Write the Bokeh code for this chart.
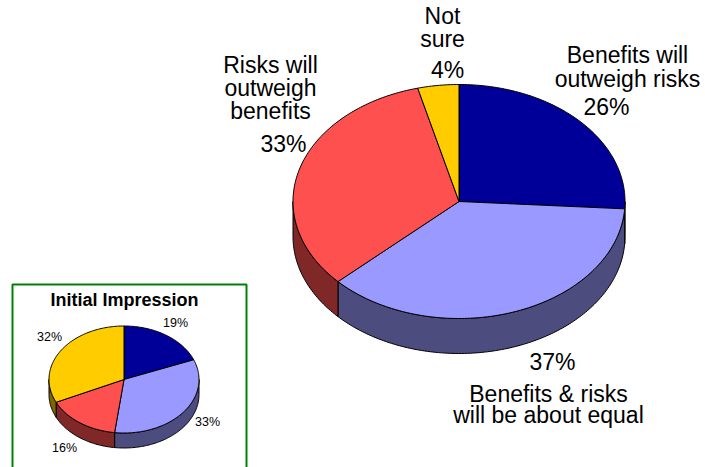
import numpy as np
from bokeh.plotting import figure
from bokeh.models import Range1d
from bokeh.embed import file_html
from bokeh.resources import INLINE
from bokeh.core.properties import value

# ---------------- data ----------------
main_categories = ["Benefits will outweigh risks",
                   "Benefits & risks will be about equal",
                   "Risks will outweigh benefits",
                   "Not sure"]
main_label_lines = [["Benefits will", "outweigh risks"],
                    ["Benefits & risks", "will be about equal"],
                    ["Risks will", "outweigh", "benefits"],
                    ["Not", "sure"]]
main_values = [26, 37, 33, 4]

inset_title = "Initial Impression"
inset_values = [19, 33, 16, 32]

# ---------------- style / layout ----------------
top_colors = ["#000099", "#9999FF", "#FF5050", "#FFCC00"]
side_colors = ["#00004C", "#4C4C7F", "#802828", "#806600"]
FONT = "Liberation Sans"
MAIN_FS, INSET_FS, TITLE_FS = 23, 12.5, 18
BASE_SHIFT = 0.39  # renderer places alphabetic baseline ~0.39em lower

# label layout: (name x, first baseline, line gap, pct x, pct baseline)
main_label_pos = [(627, 63, 24, 606, 115),
                  (548, 402, 21, 552, 370),
                  (270, 73, 23, 283, 152),
                  (442, 24, 23, 447, 78)]
inset_label_pos = [(175, 327), (207, 426), (64, 452), (49, 341)]

W, H = 705, 467
p = figure(width=W, height=H, output_backend="svg", toolbar_location=None,
           x_range=Range1d(0, W), y_range=Range1d(H, 0),
           min_border=0)
p.axis.visible = False
p.grid.visible = False
p.outline_line_color = None
p.background_fill_color = "white"
p.border_fill_color = "white"


def pie3d(vals, cx, cy, rx, ry, depth, lw):
    total = float(sum(vals))
    bounds = np.concatenate([[0.0], np.cumsum(vals) / total * 360.0])

    def arc(a0, a1, dy=0.0):
        n = max(2, int(abs(a1 - a0) / 1.0) + 2)
        t = np.radians(np.linspace(a0, a1, n))
        return list(cx + rx * np.sin(t)), list(cy - ry * np.cos(t) + dy)

    # sides (front half: 90..270 deg clockwise from top)
    sx, sy, sc = [], [], []
    for i in range(len(vals)):
        a0, a1 = bounds[i], bounds[i + 1]
        s0, s1 = max(a0, 90.0), min(a1, 270.0)
        if s1 > s0:
            tx, ty = arc(s0, s1)
            bx, by = arc(s1, s0, depth)
            sx.append(tx + bx)
            sy.append(ty + by)
            sc.append(side_colors[i])
    p.patches(sx, sy, fill_color=sc, line_color="black", line_width=lw)
    # tops
    xs, ys = [], []
    for i in range(len(vals)):
        tx, ty = arc(bounds[i], bounds[i + 1])
        xs.append([cx] + tx)
        ys.append([cy] + ty)
    p.patches(xs, ys, fill_color=top_colors[:len(vals)], line_color="black", line_width=lw)


# inset box
p.quad(left=[12], right=[246], top=[284], bottom=[480], fill_color=None,
       line_color="#008000", line_width=2)

pie3d(main_values, 458.5, 201, 166, 117, 35, 1)
pie3d(inset_values, 123.5, 379, 75, 53.5, 15, 1)

# main labels
tx, ty, tt = [], [], []
for lines, v, (nx, nb, gap, px, pb) in zip(main_label_lines, main_values, main_label_pos):
    for k, ln in enumerate(lines):
        tx.append(nx); ty.append(nb + k * gap - BASE_SHIFT * MAIN_FS); tt.append(ln)
    tx.append(px); ty.append(pb - BASE_SHIFT * MAIN_FS); tt.append(f"{v}%")
p.text(x=tx, y=ty, text=tt, text_font=value(FONT), text_font_size=f"{MAIN_FS}px",
       text_align="center", text_baseline="alphabetic", text_color="black")

# inset labels
p.text(x=[q[0] for q in inset_label_pos],
       y=[q[1] - BASE_SHIFT * INSET_FS for q in inset_label_pos],
       text=[f"{v}%" for v in inset_values], text_font=value(FONT),
       text_font_size=f"{INSET_FS}px", text_align="center", text_baseline="alphabetic",
       text_color="black")
p.text(x=[124], y=[307 - BASE_SHIFT * TITLE_FS], text=[inset_title], text_font=value(FONT),
       text_font_size=f"{TITLE_FS}px", text_font_style="bold", text_align="center",
       text_baseline="alphabetic", text_color="black")

open("out.html", "w").write(file_html(p, INLINE))
